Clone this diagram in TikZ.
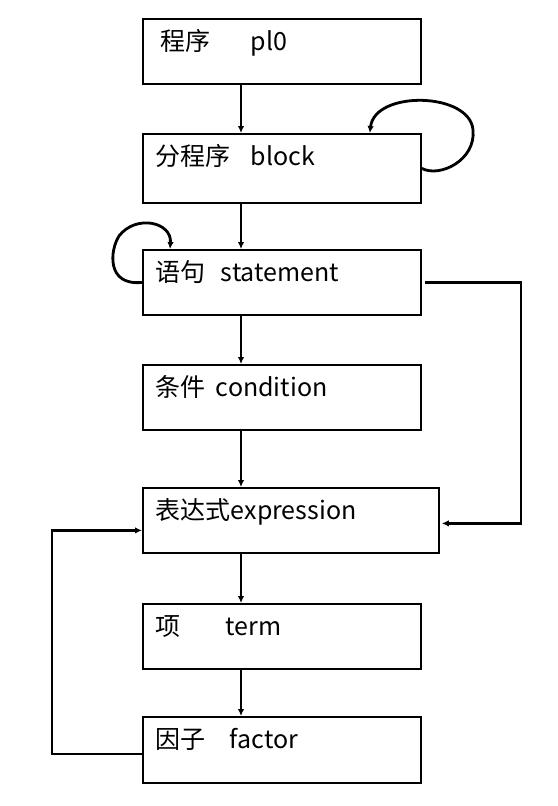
\documentclass[tikz,border=0pt]{standalone}
\usepackage{fontspec}
\setmainfont{Noto Sans CJK SC}
\usetikzlibrary{arrows.meta,positioning}

\tikzset{
  box/.style={draw, rectangle, line width=1.8pt, anchor=north west, inner xsep=13pt, inner ysep=0pt,
    text width=252pt, text height=32pt, text depth=33pt, align=left, font=\fontsize{25}{28}\selectfont},
  flow/.style={->, line width=2.3pt},
  loopline/.style={->, line width=2.8pt},
}

\begin{document}
\begin{tikzpicture}[x=1pt, y=-1pt, >={Latex[length=7pt,width=6.5pt]}]
\useasboundingbox (0,0) rectangle (557,806);

\node (pl) [box] at (142,18) {\hspace*{5pt}程序\hspace{40pt}pl0};
\node (blk) [box, text depth=37pt] at (142,133) {分程序\hspace{20pt}block};
\node (stm) [box] at (142,249) {语句\hspace{15pt}statement};
\node (cond) [box] at (142,364) {条件\hspace{10pt}condition};
\node (expr) [box, text width=270pt] at (142,487) {表达式expression};
\node (trm) [box] at (142,603) {项\hspace{45pt}term};
\node (fac) [box, text depth=34pt] at (142,716) {因子\hspace{24pt}factor};

% straight down
\foreach \a/\b in {pl/blk, blk/stm, stm/cond, cond/expr, expr/trm, trm/fac}
  \draw[flow] ([xshift=99pt]\a.south west) -- ([xshift=99pt]\b.north west);

% loops
\draw[loopline] (blk.east) .. controls (440,178) and (476,160) .. (473,130)
  .. controls (470,92) and (375,90) .. ([xshift=-52pt]blk.north east);
\draw[loopline] (stm.west) .. controls (106,286) and (110,250) .. (119,236)
  .. controls (136,214) and (172,222) .. ([xshift=28pt]stm.north west);

% back edges
\draw[flow, line width=2.6pt] ([xshift=3pt]stm.east) -- ++(96,0) |- ([xshift=2pt,yshift=-3pt]expr.east);
\draw[flow, line width=2.6pt] ([yshift=-4pt]fac.west) -- ++(-90,0) |- ([yshift=-10pt]expr.west);
\end{tikzpicture}
\end{document}
